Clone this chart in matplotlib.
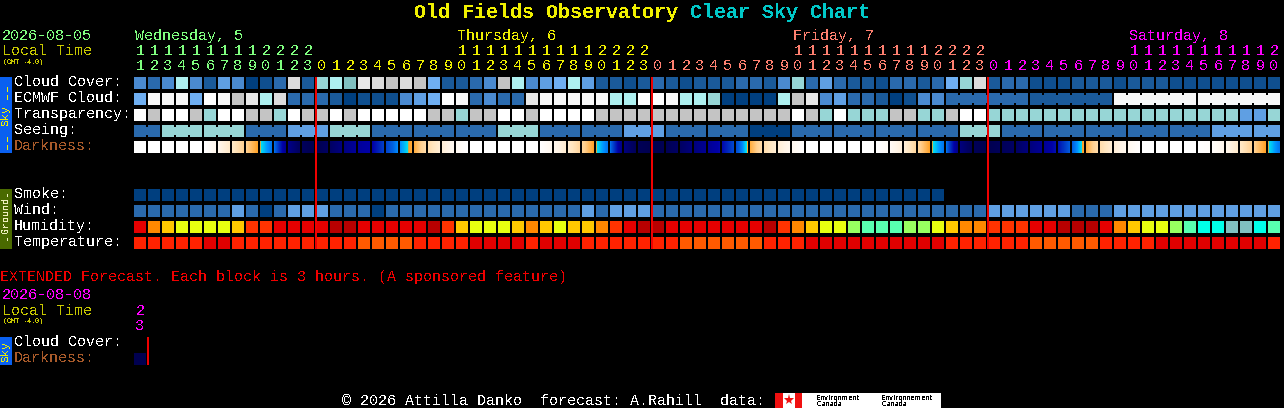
"""
Old Fields Observatory clear sky chart
"""

import numpy as np
import matplotlib
matplotlib.use("Agg")
import matplotlib.pyplot as plt
from matplotlib.colors import LinearSegmentedColormap
from matplotlib.patches import Rectangle

W, H = 1284, 408
MONO = "Liberation Mono"
plt.rcParams["font.family"] = [MONO, "DejaVu Sans Mono"]
plt.rcParams["text.antialiased"] = False
plt.rcParams["text.hinting"] = "native"
plt.rcParams["text.hinting_factor"] = 1

# shared palette of the sky rows, dark blue (good) to white (bad)
SKY_COLORS = ["#003f7f", "#0f4f8f", "#1a5a9a", "#2a6aad", "#4a8ad0", "#5f9fe3", "#6faff2", "#80c0c0",
              "#97d6d6", "#aef0f0", "#c4c4c4", "#dcdcdc", "#e8e8e8", "#f8f8f8", "#ffffff"]
HUMIDITY_COLORS = ["#b80000", "#e60000", "#ff3300", "#ff8800", "#ffc800", "#e8ff10", "#98ff60",
                   "#58ffb0", "#00ffe8", "#80c0c0"]
TEMP_COLORS = ["#e00000", "#ff2200", "#ff5a00"]
DARK_STOPS = [(0, "#ffffff"), (.1, "#fff4e6"), (.2, "#ffe6c0"), (.3, "#ffd090"), (.399, "#ff9f20"),
              (.4, "#00e8f0"), (.46, "#0090ff"), (.52, "#0060e0"), (.62, "#0030c0"), (.72, "#0000a8"),
              (.82, "#000088"), (.92, "#000064"), (1, "#000050")]

HOURS = list(range(11, 24)) + list(range(24)) * 2 + list(range(21))
# first column, header column, label, colour of each day
DAYS = [(0, 0, "Wednesday, 5", "#80ff80"), (13, 23, "Thursday, 6", "#f0f000"),
        (37, 47, "Friday, 7", "#ff8070"), (61, 71, "Saturday, 8", "#ff00ff")]

CLOUD = [4, 3, 4, 9, 4, 2, 5, 4, 0, 1,
         3, 11, 2, 8, 9, 7, 12, 11, 10, 11,
         10, 6, 2, 2, 3, 4, 10, 9, 4, 5,
         6, 9, 5, 2, 2, 1, 2, 3, 2, 1,
         2, 2, 2, 3, 3, 2, 4, 8, 3, 5,
         3, 2, 2, 1, 3, 3, 2, 3, 6, 8,
         11, 2, 3, 3, 1, 1, 1, 2, 2, 2,
         1, 2, 2, 2, 1, 1, 1, 1, 1, 1,
         1, 1]
ECMWF = [6, 13, 13, 13, 6, 14, 13, 10, 12, 9,
         11, 3, 3, 3, 2, 0, 1, 1, 1, 4,
         5, 6, 14, 13, 3, 4, 3, 3, 12, 13,
         13, 13, 13, 13, 9, 9, 14, 14, 13, 9,
         9, 8, 0, 0, 0, 0, 9, 10, 12, 4,
         5, 3, 3, 2, 0, 1, 4, 4, 3, 3,
         3, 3, 3, 3, 2, 2, 2, 2, 2, 2,
         13, 13, 13, 13, 13, 13, 13, 13, 13, 13,
         13, 13]
TRANSPARENCY = [14, 10, 14, 14, 10, 8, 14, 14, 10, 10,
                8, 14, 10, 10, 14, 10, 14, 14, 14, 14,
                14, 10, 10, 8, 10, 10, 14, 14, 10, 14,
                14, 14, 14, 10, 10, 10, 10, 10, 10, 10,
                10, 10, 10, 10, 10, 10, 10, 14, 10, 8,
                14, 8, 8, 8, 10, 10, 8, 8, 10, 14,
                14, 8, 8, 8, 8, 8, 8, 8, 8, 8,
                8, 8, 8, 8, 8, 8, 8, 8, 8, 5,
                5, 8]
SEEING = [3, 3, 8, 8, 8, 8, 8, 8, 3, 3,
          3, 5, 5, 5, 8, 8, 8, 3, 3, 3,
          3, 3, 3, 3, 3, 3, 8, 8, 8, 3,
          3, 3, 3, 3, 3, 5, 5, 5, 3, 3,
          3, 3, 3, 3, 0, 0, 0, 3, 3, 3,
          3, 3, 3, 3, 3, 3, 3, 3, 3, 8,
          8, 8, 3, 3, 3, 3, 3, 3, 3, 3,
          3, 3, 3, 3, 3, 3, 3, 5, 5, 5,
          5, 5]
SMOKE = [0] * 58
WIND = [3, 3, 3, 3, 3, 3, 3, 5, 3, 0,
        3, 5, 5, 5, 3, 3, 3, 0, 3, 3,
        3, 3, 3, 3, 3, 3, 3, 3, 3, 3,
        3, 3, 5, 3, 5, 5, 5, 3, 3, 3,
        3, 3, 3, 3, 3, 3, 3, 3, 3, 3,
        3, 3, 3, 3, 3, 3, 3, 3, 3, 3,
        3, 5, 5, 5, 5, 5, 5, 3, 3, 3,
        5, 5, 5, 5, 5, 5, 5, 5, 5, 5,
        5, 5]
HUMIDITY = [1, 3, 4, 5, 5, 5, 5, 4, 2, 2,
            1, 1, 1, 1, 0, 0, 1, 1, 1, 1,
            1, 0, 2, 4, 5, 5, 5, 4, 3, 4,
            5, 4, 4, 3, 2, 1, 0, 0, 1, 1,
            1, 1, 1, 1, 1, 0, 2, 3, 4, 5,
            5, 6, 7, 7, 7, 6, 6, 5, 4, 3,
            3, 2, 2, 2, 1, 1, 0, 0, 0, 1,
            3, 4, 5, 5, 6, 7, 8, 8, 9, 9,
            8, 7]
TEMPERATURE = [1, 1, 1, 1, 1, 0, 0, 1, 1, 1,
               1, 1, 1, 1, 1, 1, 2, 2, 2, 2,
               1, 1, 1, 1, 0, 0, 0, 0, 1, 0,
               0, 0, 1, 1, 1, 1, 1, 1, 1, 2,
               2, 2, 2, 2, 2, 1, 1, 1, 0, 0,
               0, 0, 0, 0, 0, 0, 0, 0, 1, 1,
               1, 1, 1, 1, 2, 2, 2, 2, 2, 1,
               1, 1, 1, 0, 0, 0, 0, 0, 0, 0,
               0, 1]
# darkness read at the column edges, 0 = daylight, 1 = darkest
DARKNESS = [0, 0, 0, 0, 0, 0, .08, .18, .30, .40,
            .50, .82, .95, 1, .92, .84, .76, .72, .58, .46,
            .37, .24, .14, .05, 0, 0, 0, 0, 0, 0,
            .07, .16, .28, .40, .50, .85, .97, 1, .98, .92,
            .85, .78, .70, .56, .37, .24, .14, .06, 0, 0,
            0, 0, 0, 0, .04, .14, .28, .40, .50, .85,
            .97, 1, .96, .92, .85, .78, .68, .52, .37, .24,
            .14, .06, 0, 0, 0, 0, 0, .02, .08, .18,
            .30, .40, .50]
EXT_DARKNESS = [1, 1]

# runs of columns that share one forecast block
SEEING_BLOCKS = [(0, 1)] + [(c, c + 2) for c in range(2, 80, 3)] + [(80, 81)]
ECMWF_BLOCKS = [(58, 63), (64, 69), (70, 75), (76, 81)]
RED_LINES = [13, 37, 61]

CELL_W, CELL_H = 12 / 14, 12 / 16
dark_cmap = LinearSegmentedColormap.from_list("darkness", DARK_STOPS, N=512)


def grid_axes(fig, left, top, cols, rows):
  """
  Axes with one unit per column and row, cells are 14x16 pixels
  """
  ax = fig.add_axes([left / W, 1 - (top + rows * 16) / H, cols * 14 / W, rows * 16 / H])
  ax.set_axis_off()
  ax.patch.set_alpha(0)
  ax.set_xlim(0, cols)
  ax.set_ylim(rows, 0)
  return ax


def draw_row(ax, row, values, palette):
  colors = [palette[v] for v in values]
  ax.bar(np.arange(len(values)), CELL_H, width=CELL_W, bottom=row, align="edge",
         color=colors, linewidth=0, antialiased=False)


def draw_links(ax, row, values, palette, blocks):
  """
  Narrow strips that join the cells of one block
  """
  for first, last in blocks:
    for c in range(first, last):
      ax.bar(c + CELL_W, 8 / 16, width=2 / 14, bottom=row + 2 / 16, align="edge",
             color=palette[values[c]], linewidth=0, antialiased=False)


def draw_darkness(ax, row, edges):
  for c in range(len(edges) - 1):
    levels = np.linspace(edges[c], edges[c + 1], 12, endpoint=False)[None, :]
    ax.imshow(levels, cmap=dark_cmap, vmin=0, vmax=1, aspect="auto", interpolation="nearest",
              extent=[c, c + CELL_W, row + CELL_H, row])


fig = plt.figure(figsize=(W / 100, H / 100), dpi=100, facecolor="black")

# overlay in pixel units for the texts and side bars
page = fig.add_axes([0, 0, 1, 1])
page.set_axis_off()
page.set_xlim(0, W)
page.set_ylim(H, 0)


def put(x, y, s, color="white", size=10.8, **kw):
  kw.setdefault("va", "center")
  page.text(x, y, s, color=color, fontsize=size, **kw)


# title
put(414, 12, "Old Fields Observatory", "#f0f000", 14.4, fontweight="bold")
put(690, 12, "Clear Sky Chart", "#00c8c8", 14.4, fontweight="bold")

# left header
put(2, 36, "2026-08-05", "#80ff80")
put(2, 51, "Local Time", "#c8c800")
put(3, 62, "(GMT -4.0)", "#c8c800", 5.2)

# hour digits and day names
for i, hour in enumerate(HOURS):
  color = [d[3] for d in DAYS if d[0] <= i][-1]
  x = 134 + 14 * i + 6
  if hour >= 10:
    put(x, 51, str(hour // 10), color, ha="center")
  put(x, 66.5, str(hour % 10), color, ha="center")
for first, header, name, color in DAYS:
  put(135 + 14 * header, 36, name, color)

# row labels
BROWN = "#a85a2a"
for y, label, color in [(82, "Cloud Cover:", "white"), (98, "ECMWF Cloud:", "white"),
                        (114, "Transparency:", "white"), (130, "Seeing:", "white"),
                        (146, "Darkness:", BROWN), (194, "Smoke:", "white"), (210, "Wind:", "white"),
                        (226, "Humidity:", "white"), (242, "Temperature:", "white"),
                        (342, "Cloud Cover:", "white"), (358, "Darkness:", BROWN)]:
  put(14, y, label, color)

# side bars
page.add_patch(Rectangle((0, 77), 12, 76, color="#0a60f0", lw=0))
page.add_patch(Rectangle((0, 189), 12, 60, color="#4a6a00", lw=0))
page.add_patch(Rectangle((0, 337), 12, 28, color="#0a60f0", lw=0))
for y, s, size in [(90, "--", 11), (115, "Sky", 8), (140, "--", 11), (351, "Sky", 8)]:
  put(6, y, s, "#f0f000", size, rotation=90, ha="center")
for y, s, size in [(193, "-", 8), (215, "Ground", 7), (237, "-", 8)]:
  put(6, y, s, "#f0f0c0", size, rotation=90, ha="center")

# extended forecast texts
put(0, 277, "EXTENDED Forecast. Each block is 3 hours. (A sponsored feature)", "#f00000")
put(2, 295, "2026-08-08", "#ff00ff")
put(2, 311, "Local Time", "#c8c800")
put(3, 321, "(GMT -4.0)", "#c8c800", 5.2)
put(140, 311, "2", "#ff00ff", ha="center")
put(140, 326, "3", "#ff00ff", ha="center")

# footer
put(342, 401, "\u00a9 2026 Attilla Danko  forecast: A.Rahill  data:", "white")
page.add_patch(Rectangle((775, 393), 166, 15, color="white", lw=0))
page.add_patch(Rectangle((775, 393), 8, 15, color="#f01010", lw=0))
page.add_patch(Rectangle((795, 393), 7, 15, color="#f01010", lw=0))
page.plot([789], [400], marker="*", ms=8, color="#f01010", mew=0)
for x, top in [(816, "Environment"), (881, "Environnement")]:
  put(x, 397, top, "black", 5.4, family=["DejaVu Sans"])
  put(x, 404, "Canada", "black", 5.4, family=["DejaVu Sans"])

# main forecast grid
ax = grid_axes(fig, 134, 77, 82, 11)
draw_row(ax, 0, CLOUD, SKY_COLORS)
draw_row(ax, 1, ECMWF, SKY_COLORS)
draw_links(ax, 1, ECMWF, SKY_COLORS, ECMWF_BLOCKS)
draw_row(ax, 2, TRANSPARENCY, SKY_COLORS)
draw_row(ax, 3, SEEING, SKY_COLORS)
draw_links(ax, 3, SEEING, SKY_COLORS, SEEING_BLOCKS)
draw_darkness(ax, 4, DARKNESS)
draw_row(ax, 7, SMOKE, SKY_COLORS)
draw_row(ax, 8, WIND, SKY_COLORS)
draw_row(ax, 9, HUMIDITY, HUMIDITY_COLORS)
draw_row(ax, 10, TEMPERATURE, TEMP_COLORS)
ax.set_xlim(0, 82)
ax.set_ylim(11, 0)
ax.bar(np.array(RED_LINES) - 1 / 14, 172 / 16, width=2 / 14, align="edge", color="#f00000",
       linewidth=0, antialiased=False)

# extended grid
ext = grid_axes(fig, 134, 337, 2, 2)
draw_darkness(ext, 1, EXT_DARKNESS)
ext.set_xlim(0, 2)
ext.set_ylim(2, 0)
ext.bar([1 - 1 / 14], 28 / 16, width=2 / 14, align="edge", color="#f00000", linewidth=0, antialiased=False)

fig.savefig("out.png", dpi=100, facecolor="black")
